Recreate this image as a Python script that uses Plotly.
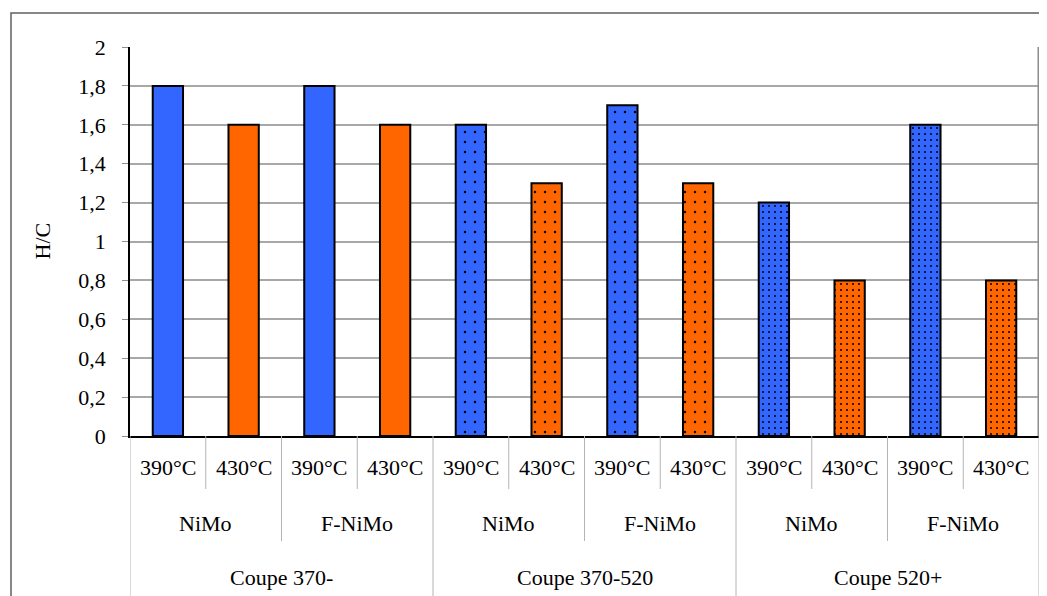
import plotly.graph_objects as go

# data
temps = ["390°C", "430°C"] * 6
catalysts = ["NiMo", "NiMo", "F-NiMo", "F-NiMo"] * 3
coupes = ["Coupe 370-"] * 4 + ["Coupe 370-520"] * 4 + ["Coupe 520+"] * 4
hc_values = [1.8, 1.6, 1.8, 1.6, 1.6, 1.3, 1.7, 1.3, 1.2, 0.8, 1.6, 0.8]

BLUE = "#3366FF"
ORANGE = "#FF6600"
FONT = "Liberation Serif"

xs = list(range(len(hc_values)))
temp_color = {"390°C": BLUE, "430°C": ORANGE}

# pattern per cut: plain, sparse dots, dense dots
pat_style = {"Coupe 370-": ("", 8, 0.07),
             "Coupe 370-520": (".", 10, 0.05),
             "Coupe 520+": (".", 6, 0.09)}

fig = go.Figure()
for coupe in ["Coupe 370-", "Coupe 370-520", "Coupe 520+"]:
    for temp in ["390°C", "430°C"]:
        idx = [i for i in xs if coupes[i] == coupe and temps[i] == temp]
        shape, size, sol = pat_style[coupe]
        fig.add_trace(go.Bar(
            x=idx, y=[hc_values[i] for i in idx], width=0.4,
            marker=dict(color=temp_color[temp],
                        line=dict(color="black", width=2),
                        pattern=dict(shape=shape, size=size, solidity=sol,
                                     fgcolor="black", bgcolor=temp_color[temp],
                                     fgopacity=1)),
            customdata=[[catalysts[i]] for i in idx],
            name=f"{coupe} {temp}",
            hovertemplate=coupe + " / %{customdata[0]} / " + temp
                          + "<br>H/C: %{y}<extra></extra>",
        ))

# the page body adds 8px margin, so work in screen pixels minus 8
OFF = 8
W, H = 1047 - OFF, 596 - OFF
plot_l, plot_r, plot_t, plot_b = 130 - OFF, 1039 - OFF, 47 - OFF, 436 - OFF
pw, ph = plot_r - plot_l, plot_b - plot_t

def py(pix):
    return (plot_b - (pix - OFF)) / ph

def px(pix):
    return ((pix - OFF) - plot_l) / pw

SEP = "#b4b4b4"
shapes = []
# outer frame
shapes.append(dict(type="rect", xref="paper", yref="paper",
                   x0=px(11), x1=px(1046), y0=py(640), y1=py(13),
                   line=dict(color="#606060", width=1.5), layer="below"))
# right border of the plot area
shapes.append(dict(type="line", xref="paper", yref="paper",
                   x0=1, x1=1, y0=0, y1=1,
                   line=dict(color="#8c8c8c", width=3)))

# separators of the three label levels
n = len(xs)
for k in range(n + 1):
    xb = k - 0.5
    if k % 4 == 0:
        y_end = py(640)
    elif k % 2 == 0:
        y_end = py(541)
    else:
        y_end = py(489)
    shapes.append(dict(type="line", xref="x", yref="paper",
                       x0=xb, x1=xb, y0=0, y1=y_end,
                       line=dict(color=SEP, width=1)))

annotations = []
lab_font = dict(family=FONT, size=22, color="black")
for i, t in enumerate(temps):
    annotations.append(dict(x=i, y=py(468), xref="x", yref="paper", text=t,
                            showarrow=False, font=lab_font,
                            xanchor="center", yanchor="middle"))
for i in range(0, n, 2):
    annotations.append(dict(x=i + 0.5, y=py(523), xref="x", yref="paper",
                            text=catalysts[i], showarrow=False, font=lab_font,
                            xanchor="center", yanchor="middle"))
for i in range(0, n, 4):
    annotations.append(dict(x=i + 1.5, y=py(577), xref="x", yref="paper",
                            text=coupes[i], showarrow=False, font=lab_font,
                            xanchor="center", yanchor="middle"))
annotations.append(dict(x=px(42), y=0.5, xref="paper", yref="paper", text="H/C",
                        textangle=-90, showarrow=False, font=lab_font,
                        xanchor="center", yanchor="middle"))

fig.update_layout(
    width=W, height=H,
    margin=dict(l=plot_l, r=W - plot_r, t=plot_t, b=H - plot_b),
    plot_bgcolor="white", paper_bgcolor="white",
    separators=", ",
    barmode="overlay",
    showlegend=False,
    font=dict(family=FONT, size=22, color="black"),
    shapes=shapes, annotations=annotations,
)
fig.update_xaxes(range=[-0.5, n - 0.5], showticklabels=False, showgrid=False,
                 zeroline=False, showline=True, linecolor="black", linewidth=1.5,
                 ticks="")
fig.update_yaxes(range=[0, 2], dtick=0.2, tick0=0, showgrid=True,
                 gridcolor="#a8a8a8", gridwidth=1.5, zeroline=False,
                 showline=True, linecolor="black", linewidth=1.5,
                 ticks="outside", ticklen=6, tickcolor="#909090",
                 ticklabelstandoff=12, tickfont=dict(family=FONT, size=22))

fig.write_html("out.html")
